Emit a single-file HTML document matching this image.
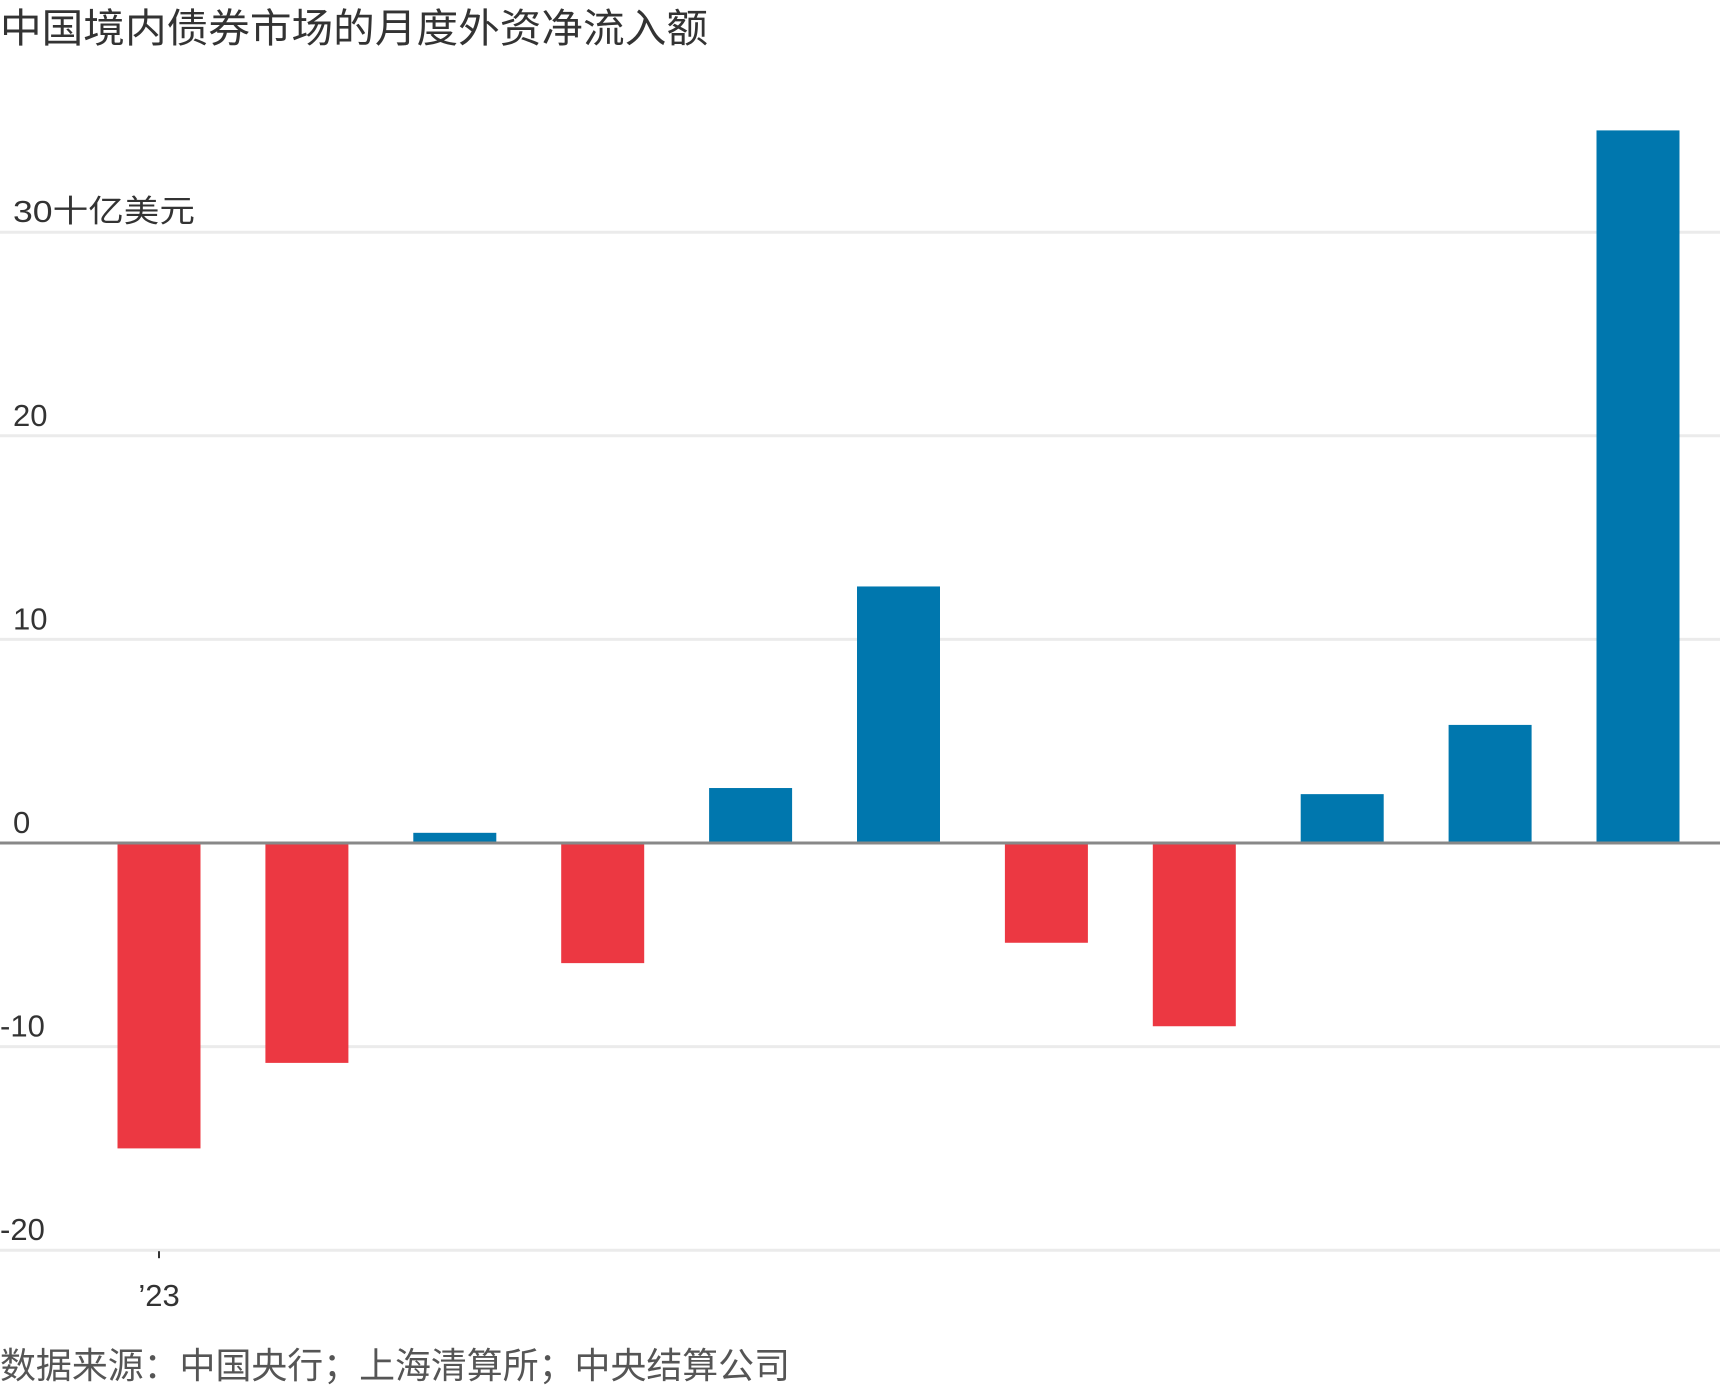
<!DOCTYPE html>
<html><head><meta charset="utf-8"><style>
html,body{margin:0;padding:0;background:#fff;}
body{width:1720px;height:1387px;overflow:hidden;font-family:"Liberation Sans","Noto Sans CJK SC",sans-serif;}
</style></head><body>
<svg id="chart" width="1720" height="1387" viewBox="0 0 1720 1387" xmlns="http://www.w3.org/2000/svg" font-family="Liberation Sans, Noto Sans CJK SC, sans-serif">
<text x="0" y="42" font-size="40" fill="#333" textLength="708" lengthAdjust="spacingAndGlyphs">中国境内债券市场的月度外资净流入额</text>
<g id="grid"></g>
<g id="bars"></g>
<g id="xaxis"></g>
<text x="0" y="1378" font-size="36" fill="#555" textLength="790" lengthAdjust="spacingAndGlyphs">数据来源：中国央行；上海清算所；中央结算公司</text>
</svg>
<script>
const categories=["2023-01","2023-02","2023-03","2023-04","2023-05","2023-06","2023-07","2023-08","2023-09","2023-10","2023-11"];
const values=[-15.0,-10.8,0.5,-5.9,2.7,12.6,-4.9,-9.0,2.4,5.8,35.0];
const yTicks=[30,20,10,0,-10,-20];
const yTickLabels=["30十亿美元","20","10","0","-10","-20"];
const xTickLabels=["’23"];
const xTickIndex=[0];

const NS="http://www.w3.org/2000/svg";
const y0=843, pxPerUnit=20.36;
function yScale(v){return y0 - v*pxPerUnit;}
const firstCenter=159, step=147.9, barW=83;
function xScale(i){return firstCenter + i*step;}

const grid=document.getElementById('grid');
yTicks.forEach((t,i)=>{
  if(t!==0){
    const l=document.createElementNS(NS,'line');
    
    
    l.setAttribute('x1',0);l.setAttribute('x2',1720);
    l.setAttribute('y1',yScale(t));l.setAttribute('y2',yScale(t));
    l.setAttribute('stroke','#ebebeb');l.setAttribute('stroke-width',3);
    grid.appendChild(l);
  }
  const tx=document.createElementNS(NS,'text');
  
  
  tx.setAttribute('x',t<0?0:13);tx.setAttribute('y',yScale(t)-10);
  tx.setAttribute('font-size','31');tx.setAttribute('fill','#333');
  if(i===0){tx.setAttribute('textLength','182');tx.setAttribute('lengthAdjust','spacingAndGlyphs');}
  tx.textContent=yTickLabels[i];
  grid.appendChild(tx);
});

const bars=document.getElementById('bars');
values.forEach((v,i)=>{
  const r=document.createElementNS(NS,'rect');
  
  
  const top=Math.min(yScale(v),y0), h=Math.abs(yScale(v)-y0);
  r.setAttribute('x',xScale(i)-barW/2);r.setAttribute('y',top);
  r.setAttribute('width',barW);r.setAttribute('height',h);
  r.setAttribute('fill',v>=0?'#0077ae':'#ec3842');
  bars.appendChild(r);
});

const zl=document.createElementNS(NS,'line');


zl.setAttribute('x1',0);zl.setAttribute('x2',1720);zl.setAttribute('y1',y0);zl.setAttribute('y2',y0);
zl.setAttribute('stroke','#888');zl.setAttribute('stroke-width',3);
bars.appendChild(zl);

const xa=document.getElementById('xaxis');
xTickIndex.forEach((idx,k)=>{
  const t=document.createElementNS(NS,'line');
  
  
  t.setAttribute('x1',xScale(idx));t.setAttribute('x2',xScale(idx));
  t.setAttribute('y1',yScale(-20)+1);t.setAttribute('y2',yScale(-20)+8);
  t.setAttribute('stroke','#333');t.setAttribute('stroke-width',2);
  xa.appendChild(t);
  const tx=document.createElementNS(NS,'text');
  
  
  tx.setAttribute('x',xScale(idx));tx.setAttribute('y',1306);
  tx.setAttribute('text-anchor','middle');tx.setAttribute('font-size','31');tx.setAttribute('fill','#333');
  tx.textContent=xTickLabels[k];
  xa.appendChild(tx);
});
</script>
</body></html>
